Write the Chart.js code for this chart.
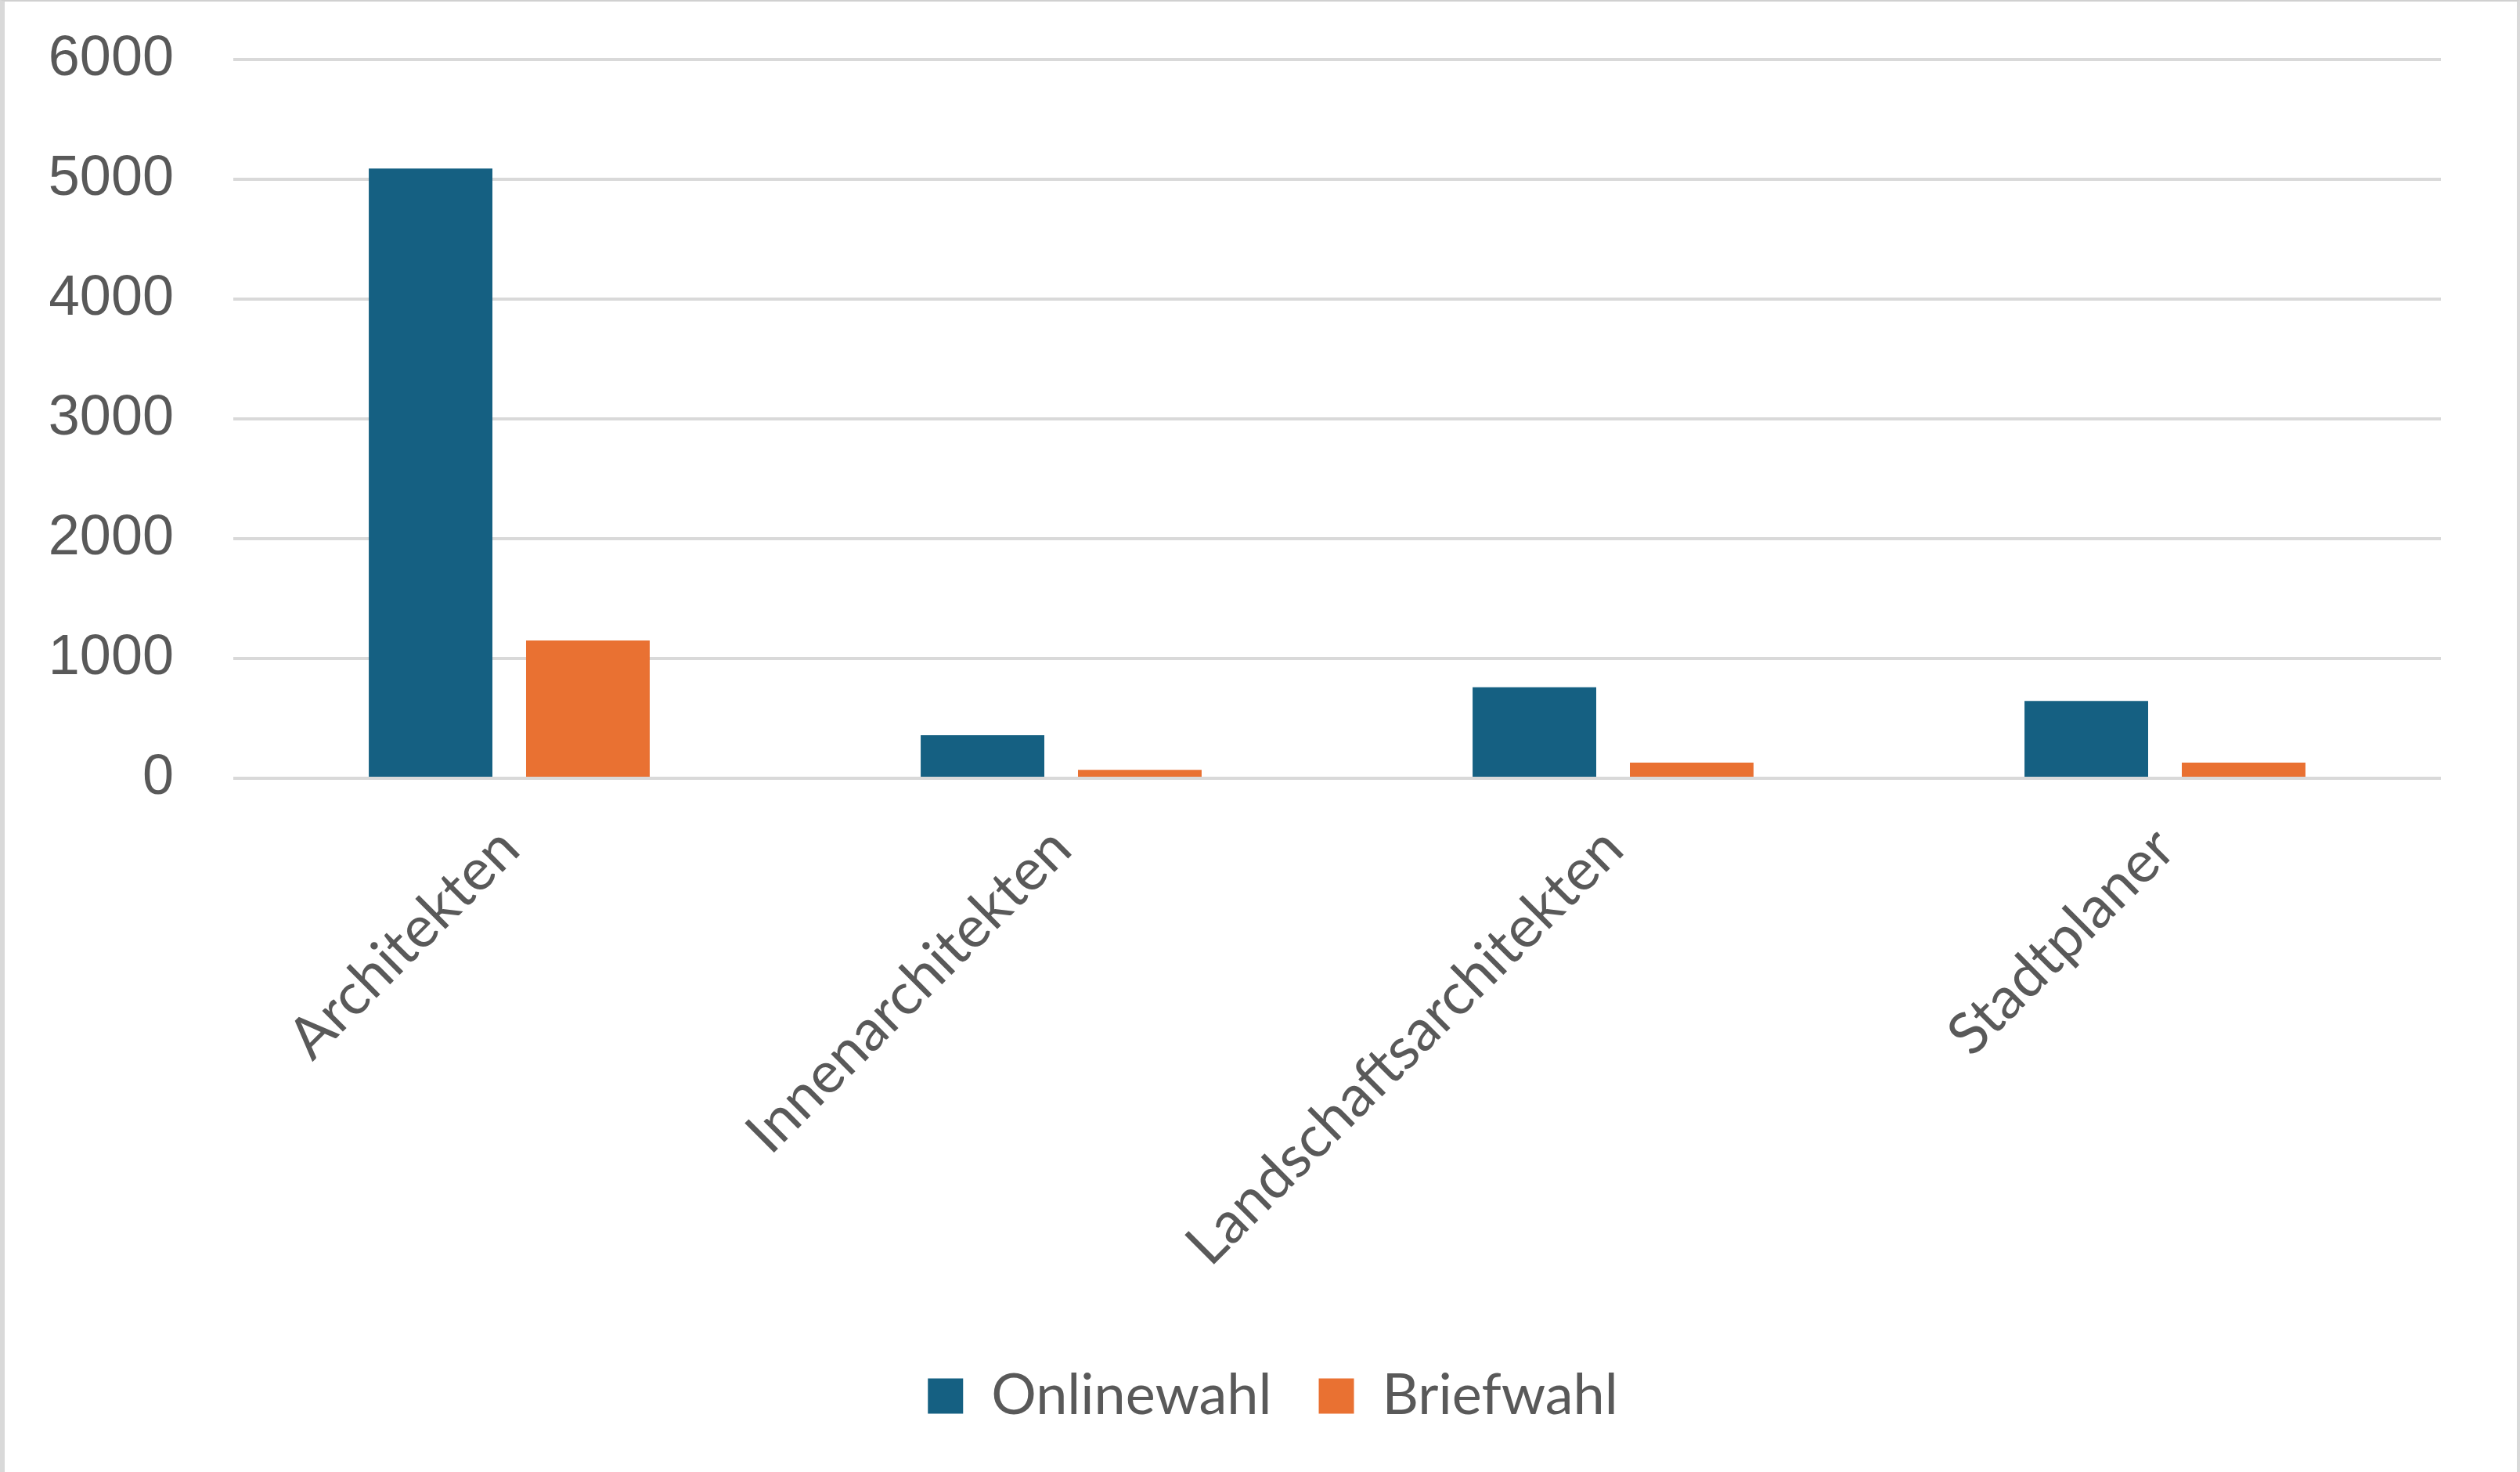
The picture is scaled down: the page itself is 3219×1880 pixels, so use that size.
<!DOCTYPE html>
<html>
<head>
<meta charset="utf-8">
<script src="https://cdn.jsdelivr.net/npm/chart.js@4"></script>
<style>
  html, body { margin: 0; padding: 0; background: #ffffff; }
  #wrap { position: relative; width: 3219px; height: 1880px; }
  #rahmen {
    position: absolute; left: 0; top: 0; right: 0; bottom: 0;
    border-left: 6px solid #d9d9d9;
    border-top: 2px solid #d0d0d0;
    border-right: 4px solid #d9d9d9;
    pointer-events: none;
  }
</style>
</head>
<body>
<div id="wrap">
  <canvas id="grafico" width="3219" height="1880"></canvas>
  <div id="rahmen"></div>
</div>
<script>
// Kategorien und Werte
const kategorien = ["Architekten", "Innenarchitekten", "Landschaftsarchitekten", "Stadtplaner"];
const onlinewahl = [5090, 360, 760, 645];
const briefwahl = [1150, 70, 130, 130];
const yTicks = [0, 1000, 2000, 3000, 4000, 5000, 6000];

const textFarbe = "#595959";
const gitterFarbe = "#d9d9d9";

// Legende etwas nach rechts schieben (wie im Original)
const legendeVersatz = {
  id: "legendeVersatz",
  afterLayout(chart) {
    if (chart.legend) {
      chart.legend.left += 35;
      chart.legend.right += 35;
    }
  }
};

const ctx = document.getElementById("grafico").getContext("2d");

new Chart(ctx, {
  type: "bar",
  data: {
    labels: kategorien,
    datasets: [
      {
        label: "Onlinewahl",
        data: onlinewahl,
        backgroundColor: "#156082",
        borderWidth: 0
      },
      {
        label: "Briefwahl",
        data: briefwahl,
        backgroundColor: "#e97132",
        borderWidth: 0
      }
    ]
  },
  options: {
    responsive: false,
    animation: false,
    devicePixelRatio: 1,
    categoryPercentage: 0.57,
    barPercentage: 0.786,
    layout: {
      padding: { left: 64, right: 101, top: 76, bottom: 51 }
    },
    plugins: {
      legend: {
        position: "bottom",
        labels: {
          color: textFarbe,
          font: { family: "Lato", size: 72 },
          boxWidth: 45,
          boxHeight: 45,
          padding: 60
        }
      },
      tooltip: { enabled: false }
    },
    scales: {
      x: {
        grid: { display: false },
        border: { display: false },
        ticks: {
          color: textFarbe,
          font: { family: "Lato", size: 74 },
          minRotation: 45,
          maxRotation: 45,
          autoSkip: false,
          padding: 38
        },
        afterFit: function(scale) {
          scale.height = 693; // Platz für die gedrehten Beschriftungen
        }
      },
      y: {
        min: 0,
        max: 6000,
        afterBuildTicks: function(scale) {
          scale.ticks = yTicks.map(v => ({ value: v }));
        },
        grid: {
          color: gitterFarbe,
          lineWidth: 4,
          drawTicks: true,
          tickLength: 72,
          tickColor: "rgba(0,0,0,0)" // unsichtbare Striche, nur als Abstand
        },
        border: { display: false },
        ticks: {
          color: textFarbe,
          font: { family: "Liberation Sans", size: 72 },
          padding: 4,
          callback: function(value) {
            return String(value); // ohne Tausendertrennzeichen
          }
        },
        afterFit: function(scale) {
          scale.width = 234;
        }
      }
    }
  },
  plugins: [legendeVersatz]
});
</script>
</body>
</html>
